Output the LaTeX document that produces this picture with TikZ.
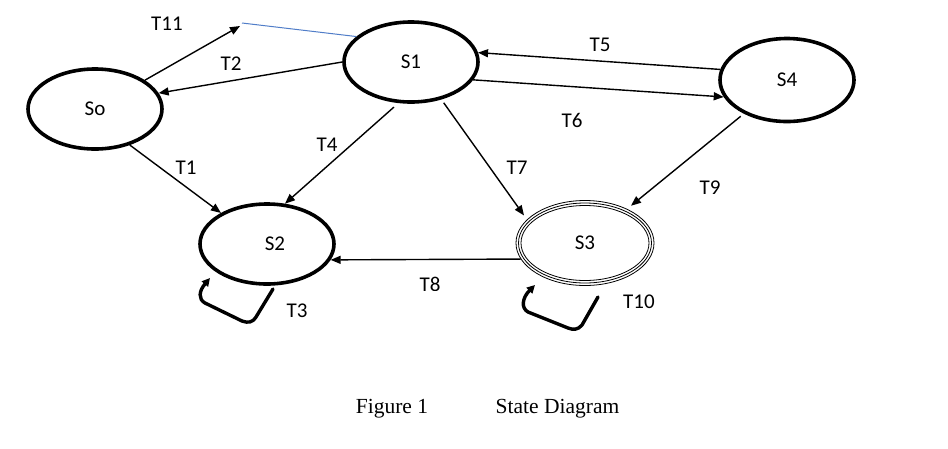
\documentclass[tikz,border=0pt]{standalone}
\usepackage{fontspec}
\setmainfont{Carlito}
\newfontfamily\capfont{Liberation Serif}
\usetikzlibrary{arrows.meta,shapes.geometric,calc}
\definecolor{lineblue}{RGB}{80,125,200}
\begin{document}
\begin{tikzpicture}[x=1pt,y=-1pt,
  state/.style={ellipse,draw,line width=3.6pt,minimum width=134pt,minimum height=80pt,inner sep=0pt,font=\fontsize{21}{24}\selectfont},
  tr/.style={draw,line width=1.4pt,-{Triangle[length=10pt,width=8pt]}},
  lbl/.style={font=\fontsize{21}{24}\selectfont,inner sep=0pt},
  selfloop/.style={draw,line width=3.4pt,-{Triangle[length=8pt,width=8pt]},line join=round,line cap=round},
  captext/.style={font=\capfont\fontsize{21.5}{24}\selectfont,inner sep=0pt,anchor=base}
]
\useasboundingbox (0,0) rectangle (948,448);
% states
\node[state] (So) at (95,109) {So};
\node[state] (S1) at (411,62) {S1};
\node[state,minimum height=83pt] (S4) at (787,80) {S4};
\node[state] (S2) at (267,244) {\hspace*{16pt}S2};
\node[state,line width=0.8pt,minimum width=138pt,minimum height=85pt] (S3) at (585,243) {S3};
\draw[line width=0.8pt] (S3.center) ellipse [x radius=66.5, y radius=40];
\draw[line width=0.8pt] (S3.center) ellipse [x radius=64, y radius=37.5];
% transitions
\coordinate (t11) at (240,26);
\draw[tr] (So.30) -- (t11);
\draw[lineblue,line width=1pt] ($(t11)+(2,-3)$) -- (S1.155);
\draw[tr] (S1.180) -- (So.14);
\draw[tr] (S4.171) -- (S1.8);
\draw[tr] (S1.-16) -- (S4.-165);
\draw[tr] (So.-46) -- (S2.146);
\draw[tr,shorten <=6pt] (S1.-107) -- (S2.66);
\draw[tr,shorten <=4pt,shorten >=5pt] (S1.-51) -- (S3.158);
\draw[tr,shorten <=4pt,shorten >=5pt] (S4.-142) -- (S3.39);
\draw[tr] (S3.-166) -- (S2.-14);
% self loops
\draw[selfloop] ($(S2)+(6,45)$) -- ($(S2)+(-11,73)$) .. controls ($(S2)+(-15,79)$) and ($(S2)+(-19,79)$) .. ($(S2)+(-25,77)$) -- ($(S2)+(-62,59)$) .. controls ($(S2)+(-69,55)$) and ($(S2)+(-68,47)$) .. ($(S2)+(-57,34)$);
\draw[selfloop] ($(S3)+(13,54)$) -- ($(S3)+(-3,82)$) .. controls ($(S3)+(-7,87)$) and ($(S3)+(-12,87)$) .. ($(S3)+(-17,85)$) -- ($(S3)+(-57,69)$) .. controls ($(S3)+(-64,65)$) and ($(S3)+(-63,55)$) .. ($(S3)+(-50,42)$);
% labels
\node[lbl] (l11) at (167,24) {T11};
\node[lbl] (l2) at (231,64) {T2};
\node[lbl] (l4) at (327,145) {T4};
\node[lbl] (l1) at (186,168) {T1};
\node[lbl] (l5) at (600,45) {T5};
\node[lbl] (l6) at (572,120) {T6};
\node[lbl] (l7) at (517,168) {T7};
\node[lbl] (l9) at (710,188) {T9};
\node[lbl] (l10) at (639,302) {T10};
\begin{scope}
\clip (380,260) rectangle (480,290);
\node[lbl] (l8) at (430,284) {T8};
\end{scope}
\begin{scope}
\clip (270,290) rectangle (330,317);
\node[lbl] (l3) at (297,311) {T3};
\end{scope}
% caption
\node[captext] (cap1) at (392,413) {Figure 1};
\node[captext] (cap2) at (557.5,413) {State Diagram};
\end{tikzpicture}
\end{document}
